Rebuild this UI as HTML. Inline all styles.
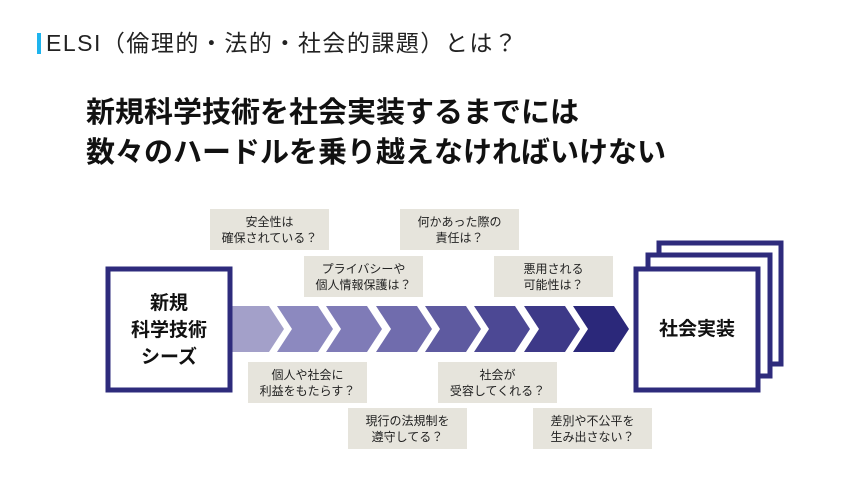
<!DOCTYPE html>
<html><head><meta charset="utf-8"><style>
body{margin:0;width:850px;height:478px;background:#fff;position:relative;overflow:hidden;font-family:"Liberation Sans","Noto Sans CJK JP",sans-serif;}
.t{position:absolute;left:46px;top:30px;font-size:23px;color:#222;line-height:26px;white-space:nowrap;letter-spacing:1.5px;}
.bar{position:absolute;left:37px;top:33px;width:4px;height:21px;background:#1eb4ee;}
.h{position:absolute;left:86px;top:93px;font-size:29px;font-weight:bold;line-height:40px;color:#111;white-space:nowrap;}
.g{position:absolute;background:#e6e4dc;font-size:12px;line-height:16px;color:#222;text-align:center;display:flex;align-items:center;justify-content:center;width:119px;height:41px;}
</style></head><body>
<div class="bar"></div>
<div class="t">ELSI（倫理的・法的・社会的課題）とは？</div>
<div class="h">新規科学技術を社会実装するまでには<br>数々のハードルを乗り越えなければいけない</div>
<svg width="850" height="478" style="position:absolute;left:0;top:0">
<polygon points="231,306 269,306 284,329 269,352 231,352" fill="#a3a0c9"/>
<polygon points="277,306 318,306 333,329 318,352 277,352 292,329" fill="#8c89bf"/>
<polygon points="326,306 367,306 382,329 367,352 326,352 341,329" fill="#7f7bb7"/>
<polygon points="376,306 417,306 432,329 417,352 376,352 391,329" fill="#706cad"/>
<polygon points="425,306 466,306 481,329 466,352 425,352 440,329" fill="#5e5aa0"/>
<polygon points="474,306 515,306 530,329 515,352 474,352 489,329" fill="#4c4894"/>
<polygon points="524,306 565,306 580,329 565,352 524,352 539,329" fill="#3d3988"/>
<polygon points="573,306 614,306 629,329 614,352 573,352 588,329" fill="#2b287a"/>
<rect x="108" y="269" width="122" height="121" fill="#fff" stroke="#2e2b7c" stroke-width="5"/>
<rect x="659" y="243" width="122" height="121" fill="#fff" stroke="#2e2b7c" stroke-width="5"/>
<rect x="648" y="255" width="122" height="121" fill="#fff" stroke="#2e2b7c" stroke-width="5"/>
<rect x="636" y="269" width="122" height="121" fill="#fff" stroke="#2e2b7c" stroke-width="5"/>
</svg>
<div style="position:absolute;left:108px;top:290px;width:122px;text-align:center;font-size:19px;font-weight:bold;line-height:27px;color:#111">新規<br>科学技術<br>シーズ</div>
<div style="position:absolute;left:636px;top:316px;width:122px;text-align:center;font-size:19px;font-weight:bold;line-height:27px;color:#111">社会実装</div>
<div class="g" style="left:210px;top:209px">安全性は<br>確保されている？</div>
<div class="g" style="left:400px;top:209px">何かあった際の<br>責任は？</div>
<div class="g" style="left:304px;top:256px">プライバシーや<br>個人情報保護は？</div>
<div class="g" style="left:494px;top:256px">悪用される<br>可能性は？</div>
<div class="g" style="left:248px;top:362px">個人や社会に<br>利益をもたらす？</div>
<div class="g" style="left:438px;top:362px">社会が<br>受容してくれる？</div>
<div class="g" style="left:348px;top:408px">現行の法規制を<br>遵守してる？</div>
<div class="g" style="left:533px;top:408px">差別や不公平を<br>生み出さない？</div>
</body></html>
